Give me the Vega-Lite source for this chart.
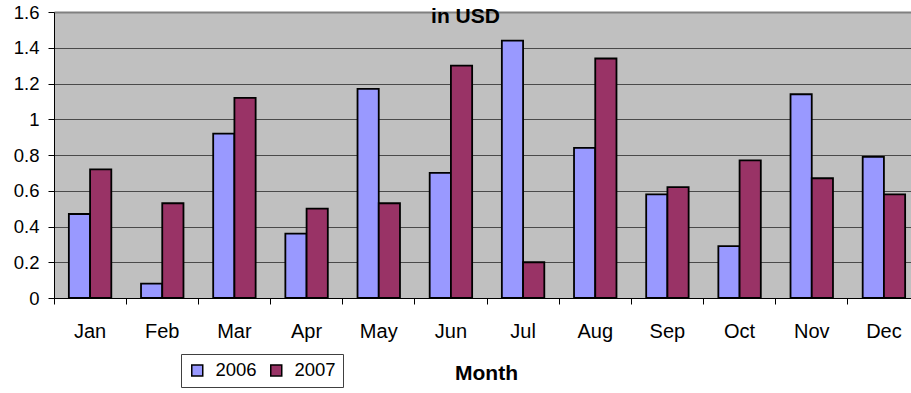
{
  "$schema": "https://vega.github.io/schema/vega-lite/v6.json",
  "width": 857,
  "height": 286,
  "autosize": {"type": "none"},
  "padding": {"left": 54, "top": 12, "right": 0, "bottom": 95},
  "background": "white",
  "title": {"text": "in USD", "font": "Liberation Sans", "fontSize": 21, "fontWeight": "bold", "color": "black", "anchor": "middle", "dx": -17, "dy": 28, "baseline": "alphabetic", "offset": -13},
  "data": {"values": [
    {"month": "Jan", "year": "2006", "value": 0.47},
    {"month": "Jan", "year": "2007", "value": 0.72},
    {"month": "Feb", "year": "2006", "value": 0.08},
    {"month": "Feb", "year": "2007", "value": 0.53},
    {"month": "Mar", "year": "2006", "value": 0.92},
    {"month": "Mar", "year": "2007", "value": 1.12},
    {"month": "Apr", "year": "2006", "value": 0.36},
    {"month": "Apr", "year": "2007", "value": 0.50},
    {"month": "May", "year": "2006", "value": 1.17},
    {"month": "May", "year": "2007", "value": 0.53},
    {"month": "Jun", "year": "2006", "value": 0.70},
    {"month": "Jun", "year": "2007", "value": 1.30},
    {"month": "Jul", "year": "2006", "value": 1.44},
    {"month": "Jul", "year": "2007", "value": 0.20},
    {"month": "Aug", "year": "2006", "value": 0.84},
    {"month": "Aug", "year": "2007", "value": 1.34},
    {"month": "Sep", "year": "2006", "value": 0.58},
    {"month": "Sep", "year": "2007", "value": 0.62},
    {"month": "Oct", "year": "2006", "value": 0.29},
    {"month": "Oct", "year": "2007", "value": 0.77},
    {"month": "Nov", "year": "2006", "value": 1.14},
    {"month": "Nov", "year": "2007", "value": 0.67},
    {"month": "Dec", "year": "2006", "value": 0.79},
    {"month": "Dec", "year": "2007", "value": 0.58}
  ]},
  "mark": {"type": "bar", "stroke": "black", "strokeWidth": 1.8},
  "encoding": {
    "x": {
      "field": "month", "type": "nominal",
      "sort": ["Jan","Feb","Mar","Apr","May","Jun","Jul","Aug","Sep","Oct","Nov","Dec"],
      "scale": {"range": [0, 866], "paddingInner": 0, "paddingOuter": 0},
      "axis": {
        "title": "Month", "titleFont": "Liberation Sans", "titleFontSize": 21, "titleFontWeight": "bold", "titleColor": "black",
        "titleX": 432, "titleY": 81, "titleBaseline": "alphabetic",
        "bandPosition": 0, "labelAngle": 0,
        "labelFont": "Liberation Sans", "labelFontSize": 20, "labelColor": "black", "labelBaseline": "alphabetic", "labelPadding": 33,
        "tickSize": 6, "tickColor": "black", "domainColor": "black", "grid": false
      }
    },
    "xOffset": {"field": "year", "type": "nominal", "scale": {"paddingInner": 0, "paddingOuter": 0.7}},
    "y": {
      "field": "value", "type": "quantitative",
      "scale": {"domain": [0, 1.6], "nice": false},
      "axis": {
        "title": null, "values": [0, 0.2, 0.4, 0.6, 0.8, 1, 1.2, 1.4, 1.6], "format": "~g",
        "labelFont": "Liberation Sans", "labelFontSize": 18.5, "labelColor": "black", "labelPadding": 9,
        "tickSize": 6, "tickColor": "black", "domainColor": "black",
        "grid": true,
        "gridColor": {"condition": {"test": "datum.value >= 1.6", "value": "#808080"}, "value": "#4a4a4a"},
        "gridWidth": {"condition": {"test": "datum.value >= 1.6", "value": 2}, "value": 1}
      }
    },
    "fill": {
      "field": "year", "type": "nominal",
      "scale": {"domain": ["2006", "2007"], "range": ["#9999FF", "#993366"]},
      "legend": {
        "orient": "none", "legendX": 127, "legendY": 342, "direction": "horizontal", "title": null,
        "strokeColor": "#404040", "fillColor": "white", "padding": 7,
        "symbolType": "square", "symbolSize": 121, "symbolStrokeColor": "black", "symbolStrokeWidth": 1.5,
        "labelFont": "Liberation Sans", "labelFontSize": 18.5, "labelColor": "black", "labelOffset": 9, "columnPadding": 10
      }
    }
  },
  "config": {"view": {"fill": "#C0C0C0", "stroke": null}}
}
